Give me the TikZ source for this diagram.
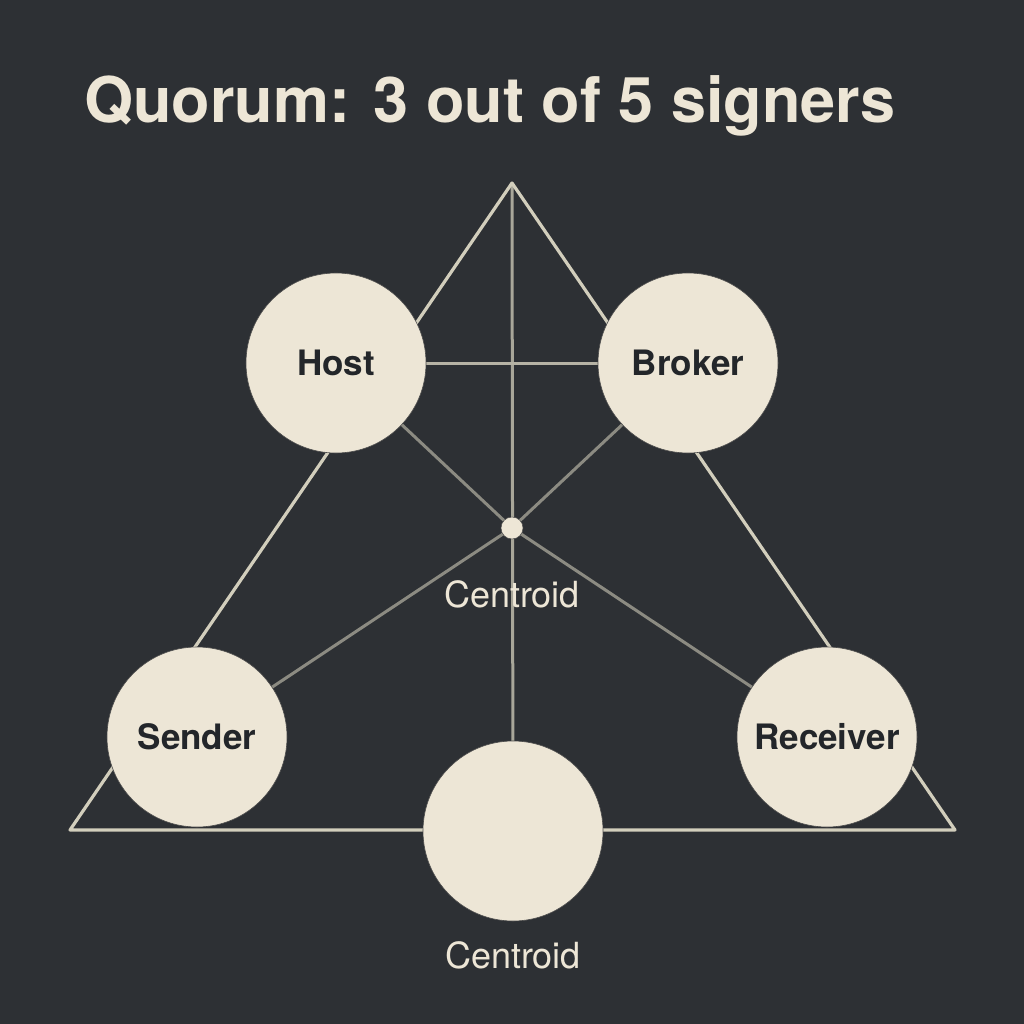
\documentclass[tikz,border=0pt]{standalone}
\usepackage{fontspec}
\setmainfont{TeX Gyre Heros}
\definecolor{bg}{HTML}{2D3034}
\definecolor{cream}{HTML}{EDE6D6}
\definecolor{edge}{HTML}{D2CEBC}
\definecolor{inner}{HTML}{8C8B82}
\definecolor{ink}{HTML}{23262A}
\tikzset{
  signer/.style={circle, fill=cream, draw=black!70, line width=0.6pt, minimum size=180pt, inner sep=0pt, text=ink, font=\bfseries\fontsize{35}{38}\selectfont},
  edgeline/.style={draw=edge, line width=3.2pt},
  innerline/.style={draw=inner, line width=3pt},
  caption/.style={text=cream, font=\fontsize{36}{39}\selectfont},
}
\begin{document}
\begin{tikzpicture}[x=1pt,y=-1pt]
\fill[bg] (0,0) rectangle (1024,1024);
\useasboundingbox (0,0) rectangle (1024,1024);
\node[anchor=base west, text=cream, font=\bfseries\fontsize{63}{66}\selectfont, inner sep=0pt] (title) at (84,123) {Quorum: 3 out of 5 signers};
\coordinate (apex) at (512,183);
\coordinate (bl) at (70,830);
\coordinate (br) at (955,830);
\coordinate (cen) at (512,528);
\coordinate (hostc) at (336,363);
\coordinate (brokc) at (688,363);
\coordinate (sendc) at (197,737);
\coordinate (recvc) at (827,737);
\coordinate (botc) at (513,831);
% lines
\draw[innerline] (hostc) -- (cen);
\draw[innerline] (brokc) -- (cen);
\draw[innerline] (sendc) -- (cen);
\draw[innerline] (recvc) -- (cen);
\draw[draw=inner!60!edge, line width=3pt] (apex) -- (botc);
\draw[draw=inner!40!edge, line width=3pt] (hostc) -- (brokc);
\draw[edgeline, line join=round] (apex) -- (bl) -- (br) -- cycle;
% nodes
\node[signer] (host) at (hostc) {Host};
\node[signer] (broker) at (brokc) {Broker};
\node[signer] (sender) at (sendc) {Sender};
\node[signer] (receiver) at (recvc) {Receiver};
\node[signer] (bottom) at (botc) {};
\node[circle, fill=cream, draw=black!70, line width=0.5pt, minimum size=22pt, inner sep=0pt] (dot) at (cen) {};
\node[caption] (cap1) at (512,594) {Centroid};
\node[caption] (cap2) at (513,955) {Centroid};
\end{tikzpicture}
\end{document}
